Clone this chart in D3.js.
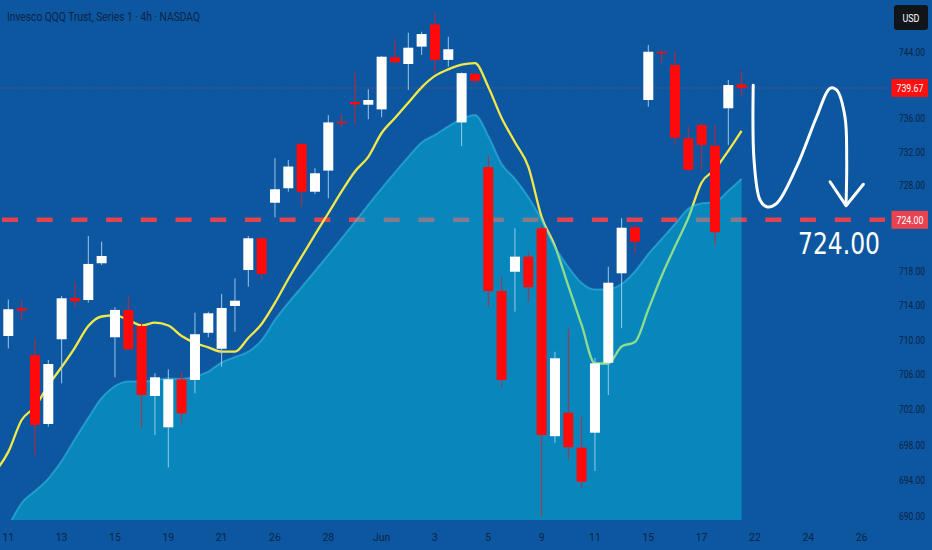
<!DOCTYPE html>
<html>
<head>
<meta charset="utf-8">
<script src="https://cdn.jsdelivr.net/npm/d3@7/dist/d3.min.js"></script>
<style>
  html, body { margin: 0; padding: 0; background: #0c579f; }
  svg { display: block; }
</style>
</head>
<body>
<svg id="chart" width="932" height="550"></svg>
<script>
// ---------------- DATA ----------------
const title = "Invesco QQQ Trust, Series 1 · 4h · NASDAQ";
const currency = "USD";
// trading days (two 4h bars per day)
const days = ["May 11","May 12","May 13","May 14","May 15","May 18","May 19","May 20","May 21","May 22",
  "May 26","May 27","May 28","May 29","Jun 1","Jun 2","Jun 3","Jun 4","Jun 5","Jun 8","Jun 9","Jun 10",
  "Jun 11","Jun 12","Jun 15","Jun 16","Jun 17","Jun 18"];
const open  = [710.47,713.67,708.28,700.39,710.09,714.86,714.63,718.91,710.32,713.48,711.62,703.58,700.01,705.49,705.41,710.84,709.00,713.94,718.12,721.83,
  726.01,727.72,732.97,727.31,729.81,735.63,737.98,737.66,737.10,743.36,742.55,744.65,747.35,743.05,735.54,741.37,730.22,715.68,717.92,719.68,
  723.00,699.00,701.67,697.70,699.40,707.39,717.74,723.12,738.22,744.03,742.44,733.65,735.23,732.77,737.23,740.10];
const high  = [714.69,714.63,710.20,707.71,715.09,716.76,722.10,721.43,713.79,715.01,712.11,706.18,706.63,706.37,713.16,713.28,715.33,717.15,722.10,721.91,
  731.28,731.07,733.08,730.09,736.42,736.53,741.62,739.51,743.48,745.54,746.33,746.45,748.70,745.84,741.53,741.53,731.66,717.34,723.00,720.26,
  723.39,708.65,711.36,701.22,707.95,718.51,724.19,723.32,744.85,744.16,744.03,735.03,735.44,735.23,740.63,741.74];
const low   = [709.03,712.31,696.86,700.09,705.03,713.86,714.33,718.71,705.72,708.83,699.90,699.14,695.47,700.47,703.88,710.32,706.94,710.96,716.18,717.04,
  724.29,727.31,725.55,727.04,726.53,735.02,735.35,735.92,736.16,742.66,739.43,743.64,741.38,742.24,732.73,740.29,713.86,704.57,713.28,714.44,
  689.90,698.25,696.30,693.11,695.07,703.69,711.36,720.07,737.41,742.63,732.86,729.70,729.90,721.05,732.86,738.63];
const close = [713.56,713.39,700.27,707.24,714.83,714.48,718.83,719.76,713.48,708.93,703.69,705.72,705.49,701.60,710.67,713.09,713.71,714.55,721.83,717.66,
  727.60,730.29,727.31,729.49,735.54,735.49,737.70,738.22,743.43,742.76,744.52,746.17,743.05,744.33,741.45,740.52,715.68,705.41,719.68,716.11,
  699.14,707.90,697.75,693.86,707.32,716.64,723.07,721.43,744.03,743.85,733.72,729.90,732.86,722.54,740.02,739.67];
// fast moving average (yellow); first value belongs to the bar before May 11
const fastMA = [694.95,697.22,700.84,702.35,704.79,706.90,709.14,711.62,712.72,712.86,712.32,711.68,712.00,711.68,710.47,709.67,709.16,708.66,708.66,710.24,711.86,
  714.29,717.07,719.68,722.26,724.77,727.35,729.71,731.44,734.28,736.08,737.88,739.74,741.12,741.90,742.47,742.66,739.79,736.08,733.18,730.29,
  724.33,720.92,716.26,711.74,707.30,707.30,709.26,709.77,713.53,717.42,720.86,724.21,728.40,729.96,732.15,734.54];
// slow moving average (area)
const slowMA = [688.80,691.46,692.80,694.21,696.20,698.68,701.08,703.35,704.72,705.24,705.24,705.41,705.58,705.53,705.81,706.38,707.42,708.05,708.66,710.00,
  712.32,714.29,716.14,718.00,719.88,721.81,723.75,725.75,727.70,729.59,731.43,733.15,734.05,735.06,735.95,736.43,733.93,730.60,728.84,726.69,
  723.98,720.81,718.47,716.61,715.85,715.91,716.49,717.95,719.99,721.75,723.51,725.29,725.94,726.10,727.41,728.84];
const priceTicks = [744,736,732,728,718,714,710,706,702,698,694,690];
const timeTicks = [
  {bar:0,label:"11"},{bar:4,label:"13"},{bar:8,label:"15"},{bar:12,label:"19"},{bar:16,label:"21"},
  {bar:20,label:"26"},{bar:24,label:"28"},{bar:28,label:"Jun"},{bar:32,label:"3"},{bar:36,label:"5"},
  {bar:40,label:"9"},{bar:44,label:"11"},{bar:48,label:"15"},{bar:52,label:"17"},{bar:56,label:"22"},
  {bar:60,label:"24"},{bar:64,label:"26"}];
const targetLevel = 724.00;
const lastPrice = close[close.length-1];
// hand-drawn projection arrow (bar index, price)
const arrowPath = [[55.87,740.0],[55.93,731.06],[56.38,726.33],[56.88,725.54],[57.63,725.94],[59.13,730.27],
  [60.63,736.22],[61.63,739.63],[62.13,739.42],[62.75,736.22],[62.88,731.06],[62.83,725.74]];
const arrowHead = [[61.63,728.49],[62.83,725.66],[64.13,728.19]];

// ---------------- CHART ----------------
const bars = open.map((o,i)=>({i, day: days[Math.floor(i/2)], o, h: high[i], l: low[i], c: close[i]}));
const svg = d3.select("#chart");
const W = 932, H = 550, plotR = 888, plotB = 520;

const x = d3.scaleLinear().domain([0, 55]).range([8.3, 8.3 + 13.3333*55]);
const y = d3.scaleLog().domain([690, 744]).range([516, 52]);
const step = x(1) - x(0);
const dark = "#0d2448";

svg.append("rect").attr("width", W).attr("height", H).attr("fill", "#0c579f");

const defs = svg.append("defs");
defs.append("clipPath").attr("id","plot").append("rect").attr("x",0).attr("y",0).attr("width",plotR).attr("height",plotB);
const plot = svg.append("g").attr("clip-path","url(#plot)");

// target dashed level (below area)
plot.append("line").attr("x1",0).attr("x2",885).attr("y1",y(targetLevel)).attr("y2",y(targetLevel))
  .attr("stroke","#e5424f").attr("stroke-width",4.5).attr("stroke-dasharray","16,18.7").attr("stroke-dashoffset",-2);

// fast MA (below translucent area)
plot.append("path").datum(fastMA)
  .attr("d", d3.line().x((d,k)=>x(k-1)).y(d=>y(d)).curve(d3.curveMonotoneX))
  .attr("fill","none").attr("stroke","#f3e84a").attr("stroke-width",2.3);

// slow MA area
plot.append("path").datum(slowMA)
  .attr("d", d3.area().x((d,k)=>x(k)).y0(plotB).y1(d=>y(d)).curve(d3.curveMonotoneX))
  .attr("fill","rgba(0,203,231,0.41)");
plot.append("path").datum(slowMA)
  .attr("d", d3.line().x((d,k)=>x(k)).y(d=>y(d)).curve(d3.curveMonotoneX))
  .attr("fill","none").attr("stroke","rgba(70,205,245,0.45)").attr("stroke-width",2);

// last price dotted line
plot.append("line").attr("x1",0).attr("x2",plotR).attr("y1",y(lastPrice)).attr("y2",y(lastPrice))
  .attr("stroke","rgba(255,70,70,0.55)").attr("stroke-width",1).attr("stroke-dasharray","1,2");

// candles
const cg = plot.append("g").selectAll("g").data(bars).join("g");
cg.append("line")
  .attr("x1",d=>x(d.i)).attr("x2",d=>x(d.i)).attr("y1",d=>y(d.h)).attr("y2",d=>y(d.l))
  .attr("stroke",d=>d.c>=d.o?"#9dc6ec":"#c42838").attr("stroke-width",1);
cg.append("rect")
  .attr("x",d=>x(d.i)-step*0.375).attr("width",step*0.75)
  .attr("y",d=>y(Math.max(d.o,d.c)))
  .attr("height",d=>Math.max(1.5, y(Math.min(d.o,d.c))-y(Math.max(d.o,d.c))))
  .attr("fill",d=>d.c>=d.o?"#ffffff":"#ff0a0a");

// projection arrow
svg.append("path").datum(arrowPath)
  .attr("d", d3.line().x(d=>x(d[0])).y(d=>y(d[1])).curve(d3.curveCatmullRom.alpha(0.5)))
  .attr("fill","none").attr("stroke","#ffffff").attr("stroke-width",3).attr("stroke-linecap","round");
svg.append("path").datum(arrowHead)
  .attr("d", d3.line().x(d=>x(d[0])).y(d=>y(d[1])))
  .attr("fill","none").attr("stroke","#ffffff").attr("stroke-width",3).attr("stroke-linecap","round").attr("stroke-linejoin","round");

svg.append("text").attr("x",798).attr("y",y(targetLevel)+34)
  .attr("font-family","DejaVu Sans, sans-serif").attr("font-size",31).attr("fill","#ffffff")
  .attr("textLength",82).attr("lengthAdjust","spacingAndGlyphs")
  .text(targetLevel.toFixed(2));

// price axis
const pa = svg.append("g");
pa.selectAll("text").data(priceTicks).join("text")
  .attr("x",925).attr("y",d=>y(d)+3.5).attr("text-anchor","end")
  .attr("font-family","Roboto, sans-serif").attr("font-size",10).attr("fill",dark)
  .attr("textLength",26).attr("lengthAdjust","spacingAndGlyphs")
  .text(d=>d.toFixed(2));

function priceLabel(v, color){
  const g = svg.append("g");
  g.append("rect").attr("x",891.5).attr("y",y(v)-9).attr("width",36.5).attr("height",18).attr("fill",color);
  g.append("text").attr("x",910).attr("y",y(v)+3.8).attr("text-anchor","middle")
    .attr("font-family","Roboto, sans-serif").attr("font-size",10.5).attr("fill","#fff")
    .attr("textLength",27).attr("lengthAdjust","spacingAndGlyphs")
    .text(v.toFixed(2));
}
priceLabel(lastPrice, "#ff1010");
priceLabel(targetLevel, "#e9434f");

// currency badge
svg.append("rect").attr("x",894).attr("y",5).attr("width",34).attr("height",25).attr("rx",3).attr("fill","#111418");
svg.append("text").attr("x",911).attr("y",21.5).attr("text-anchor","middle")
  .attr("font-family","Roboto, sans-serif").attr("font-size",10).attr("fill","#fff")
  .attr("textLength",17).attr("lengthAdjust","spacingAndGlyphs").text(currency);

// time axis
svg.append("g").selectAll("text").data(timeTicks).join("text")
  .attr("x",d=>x(d.bar)).attr("y",541).attr("text-anchor","middle")
  .attr("font-family","Roboto, sans-serif").attr("font-size",10.5).attr("fill",dark)
  .text(d=>d.label);

// title
svg.append("text").attr("x",7).attr("y",21).attr("font-family","Roboto, sans-serif")
  .attr("font-size",12).attr("fill",dark).attr("textLength",193).attr("lengthAdjust","spacingAndGlyphs")
  .text(title);
</script>
</body>
</html>
